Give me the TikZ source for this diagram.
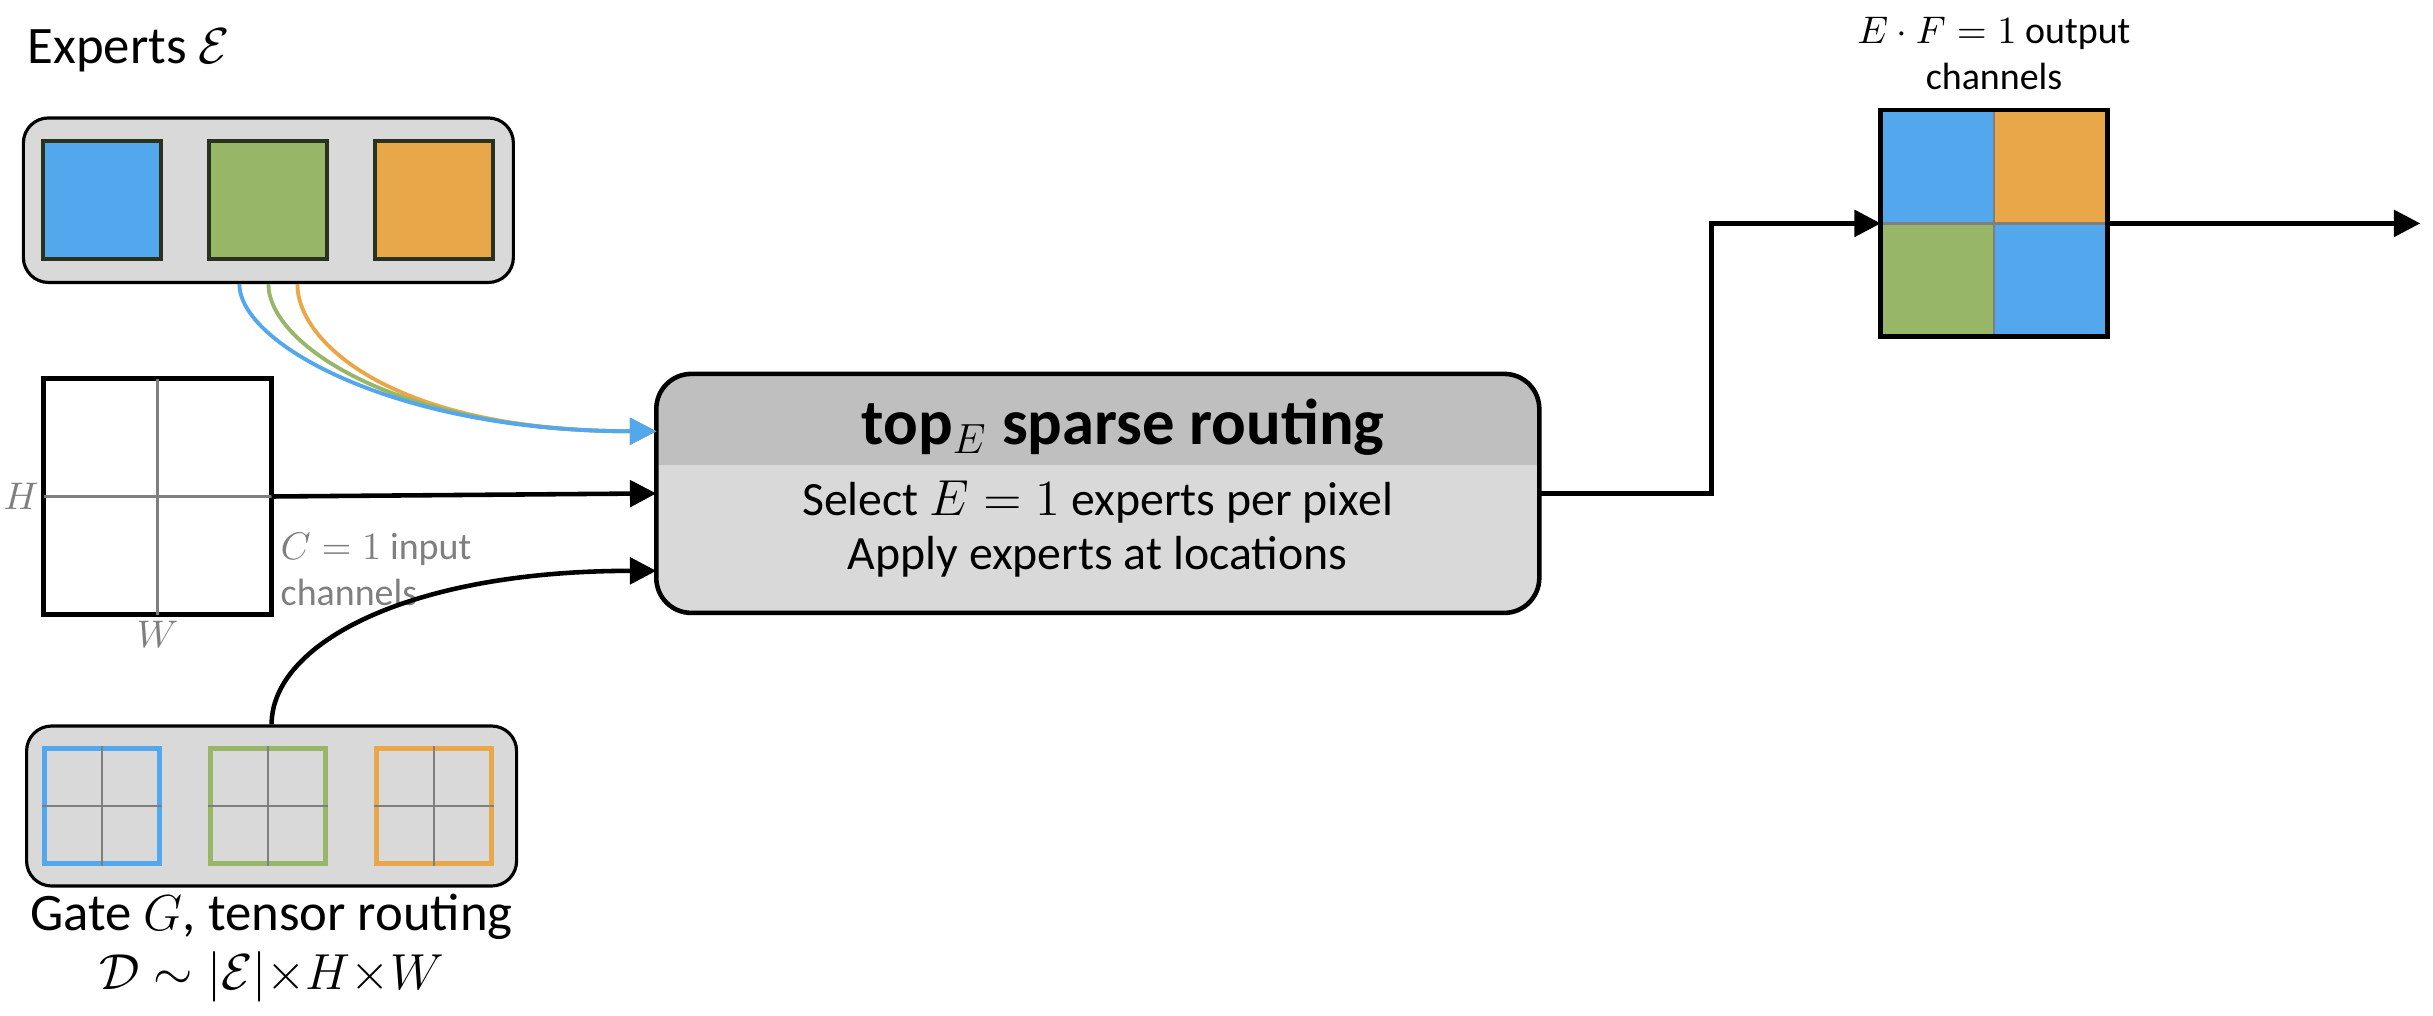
\documentclass[tikz,border=0pt]{standalone}
\usepackage{fontspec}
\setmainfont{Carlito}
\usetikzlibrary{arrows.meta,calc,positioning}

\definecolor{xblue}{RGB}{83,167,236}
\definecolor{xgreen}{RGB}{152,182,104}
\definecolor{xorange}{RGB}{232,168,74}
\definecolor{boxgray}{RGB}{217,217,217}
\definecolor{headgray}{RGB}{191,191,191}
\definecolor{lblgray}{RGB}{127,127,127}
\definecolor{xedge}{RGB}{40,50,28}

\begin{document}
\begin{tikzpicture}[
  panel/.style  ={draw, line width=0.9pt, rounded corners=2.5mm, fill=boxgray,
                  inner sep=0pt},
  expert/.style ={draw=xedge, line width=1.2pt, minimum size=11.8mm, inner sep=0pt},
  gsq/.style    ={line width=1.3pt, minimum size=11.5mm, inner sep=0pt, fill=boxgray},
  pixgrid/.style={line width=1.3pt, inner sep=0pt, outer sep=0pt},
  router/.style ={fill=boxgray, rounded corners=3.5mm, minimum width=88.3mm,
                  minimum height=23.9mm, inner sep=0pt, outer sep=0pt},
  biglbl/.style ={font=\fontsize{15}{17}\selectfont, inner sep=0pt},
  smlbl/.style  ={font=\fontsize{10.8}{13}\selectfont, inner sep=0pt},
  boxtxt/.style ={font=\fontsize{13.6}{16}\selectfont, anchor=base},
  flow/.style   ={-{Triangle[length=7.5pt,width=7.5pt]}, line width=1.3pt},
  eflow/.style  ={-{Triangle[length=7.5pt,width=7.5pt]}, line width=1.1pt},
]
\useasboundingbox (0,0) rectangle (24.33,10.15);

% ============================ experts ========================================
\node[biglbl, anchor=west] (exlbl) at (0.27,9.65) {Experts $\mathcal{E}$};
\node[panel, minimum width=49mm, minimum height=16.45mm] (exbox) at (2.684,8.148) {};
\foreach \c/\x/\n in {xblue/1.02/1, xgreen/2.68/2, xorange/4.34/3} {
  \node[expert, fill=\c] (e\n) at (\x,8.15) {};
}

% ============================ input image ====================================
\node[pixgrid, draw, minimum width=22.8mm, minimum height=23.6mm] (inp) at (1.575,5.185) {};
\draw[lblgray, line width=0.8pt] (inp.north) -- (inp.south) (inp.west) -- (inp.east);
\node[smlbl, text=lblgray, left=0.4mm of inp.west] (hlbl) {$H$};
\node[smlbl, text=lblgray, below=0.6mm of inp.south] (wlbl) {$W$};
\node[smlbl, text=lblgray, align=left, anchor=west] (clbl) at (2.80,4.455)
     {$C=1$ input\\channels};

% ============================ gate ===========================================
\node[panel, minimum width=49mm, minimum height=16mm] (gbox) at (2.716,2.09) {};
\foreach \c/\x/\n in {xblue/1.02/1, xgreen/2.68/2, xorange/4.34/3} {
  \node[gsq, draw=\c] (g\n) at (\x,2.09) {};
  \draw[lblgray, line width=0.8pt] (g\n.north) -- (g\n.south) (g\n.west) -- (g\n.east);
}
\node[biglbl, align=center] (glbl) at (2.716,0.67)
     {Gate $G$, tensor routing\\$\mathcal{D}\sim|\mathcal{E}|{\times}H{\times}W$};

% ============================ router =========================================
\node[router] (main) at (10.978,5.216) {};
\begin{scope}
  \clip[rounded corners=3.5mm] (main.north west) rectangle (main.south east);
  \fill[headgray] (main.north west) rectangle ([yshift=-9.15mm]main.north east);
\end{scope}
\draw[line width=1.3pt, rounded corners=3.5mm] (main.north west) rectangle (main.south east);
\node[font=\fontsize{18.4}{22}\selectfont\bfseries, anchor=base] (ttl) at (11.23,5.71)
     {top$_{E}$ sparse routing};
\node[boxtxt] (sel) at (10.975,5.00) {Select $E=1$ experts per pixel};
\node[boxtxt] (app) at (10.975,4.46) {Apply experts at locations};

\coordinate (hdin) at ($(main.north west)!0.24!(main.south west)$);
\coordinate (gin)  at ($(main.north west)!0.824!(main.south west)$);

% experts in: three curves landing on one tip
\foreach \c/\x in {xorange/0.29, xgreen/0, xblue/-0.29} {
  \draw[eflow, \c] ([xshift=\x cm]exbox.south) .. controls +(0,-0.6) and +(-2.6,0) .. (hdin);
}
\draw[flow] (inp.east) -- (main.west);
\draw[flow] (gbox.north) .. controls +(0,0.8) and +(-2.5,0) .. (gin);

% ============================ output =========================================
\node[pixgrid, minimum size=22.65mm] (outg) at (19.94,7.916) {};
\fill[xblue]   (outg.north west) rectangle (outg.center);
\fill[xorange] (outg.north) rectangle (outg.east);
\fill[xgreen]  (outg.west) rectangle (outg.south);
\fill[xblue]   (outg.center) rectangle (outg.south east);
\draw[lblgray, line width=0.8pt] (outg.north) -- (outg.south) (outg.west) -- (outg.east);
\draw[line width=1.3pt] (outg.north west) rectangle (outg.south east);
\node[smlbl, align=center] (olbl) at (19.94,9.615) {$E\cdot F=1$ output\\channels};

\coordinate (bendx) at (17.115,5);
\coordinate (outend) at ($(outg.east)+(3.13,0)$);
\draw[flow] (main.east) -- (main.east -| bendx) |- (outg.west);
\draw[flow] (outg.east) -- (outend);

\end{tikzpicture}
\end{document}
